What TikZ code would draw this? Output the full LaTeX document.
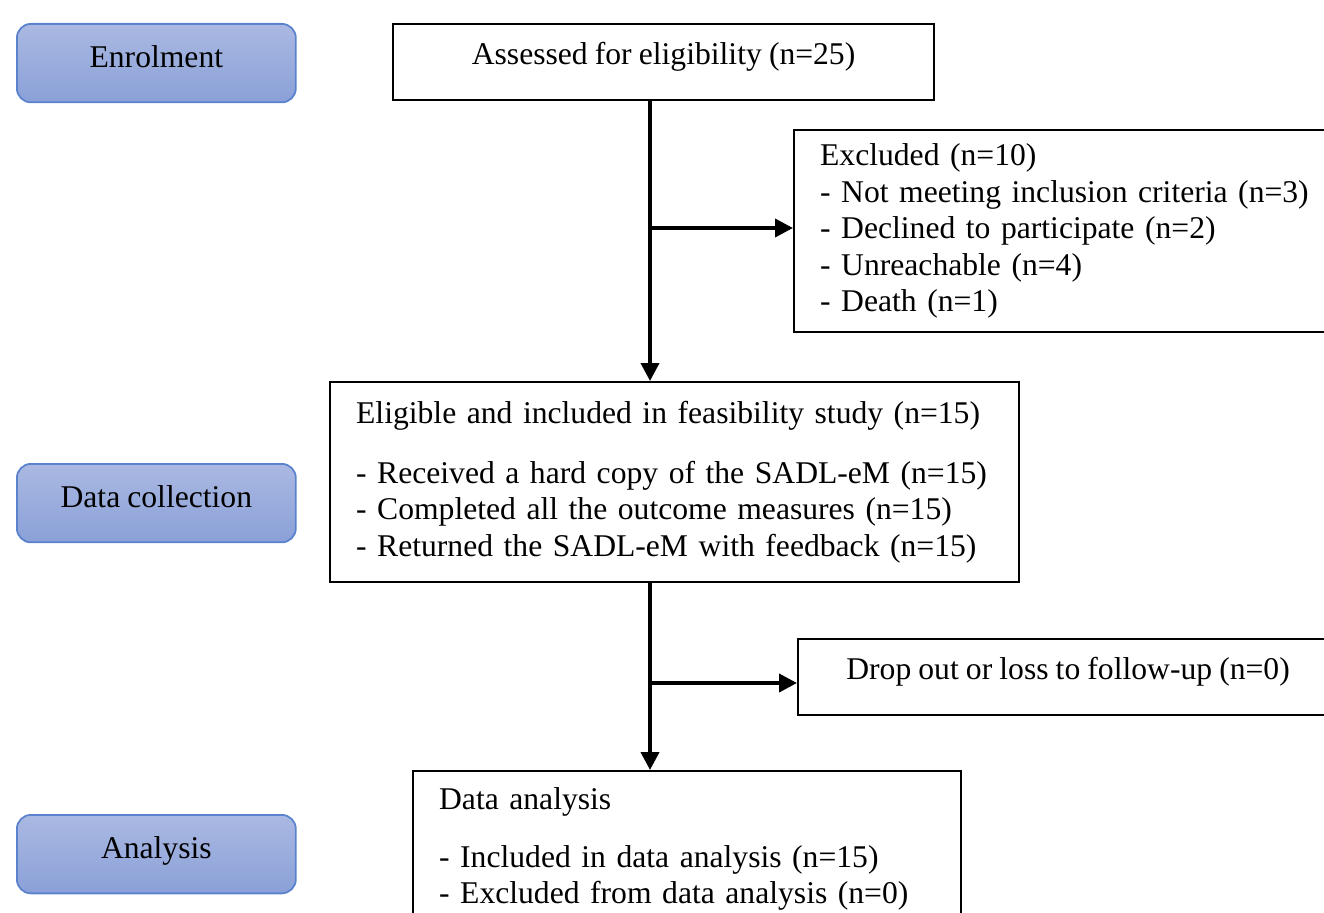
\documentclass[tikz,border=0pt]{standalone}
\usepackage{fontspec}
\setmainfont[WordSpace=0.9]{Liberation Serif}
\usetikzlibrary{arrows.meta,positioning}

\definecolor{stagetop}{RGB}{170,185,226}
\definecolor{stagebot}{RGB}{138,160,216}
\definecolor{stageline}{RGB}{90,130,205}

\tikzset{
  stage/.style={draw=stageline, line width=1pt, rounded corners=8pt,
    top color=stagetop, bottom color=stagebot, anchor=north west,
    minimum width=5.58cm, minimum height=1.57cm, text height=13pt, text depth=8.4pt},
  flowbox/.style={draw, line width=1.3pt, anchor=north west, inner xsep=0.52cm, align=left},
  arr/.style={line width=2.2pt, -{Triangle[length=0.36cm,width=0.36cm]}}
}

\begin{document}
\begin{tikzpicture}[x=0.02cm, y=-0.02cm, font=\fontsize{18}{20.7}\selectfont]
    \useasboundingbox (0,0) rectangle (1324,912);
    \clip (0,0) rectangle (1324,912);
    % stages on the left
    \node [stage] (enrol) at (16,23) {Enrolment};
    \node [stage] (collect) at (16,463) {Data collection};
    \node [stage] (analysis) at (16,814) {Analysis};
    % flow boxes
    \node [flowbox, align=center, minimum width=10.82cm, minimum height=1.52cm,
        text height=13pt, text depth=10.6pt] (assess) at (392,23) {Assessed for eligibility (n=25)};
    \node [flowbox, text width=11cm, minimum height=4.04cm] (excl) at (793,129)
        {Excluded (n=10)\\
         - Not meeting inclusion criteria (n=3)\\
         - Declined to participate (n=2)\\
         - Unreachable (n=4)\\
         - Death (n=1)};
    \node [flowbox, text width=12.74cm, minimum height=4cm] (elig) at (329,381)
        {Eligible and included in feasibility study (n=15)\\[13.5pt]
         - Received a hard copy of the SADL-eM (n=15)\\
         - Completed all the outcome measures (n=15)\\
         - Returned the SADL-eM with feedback (n=15)};
    \node [flowbox, align=center, minimum width=10.8cm, minimum height=1.52cm,
        text height=13pt, text depth=10pt] (drop) at (797,638) {Drop out or loss to follow-up (n=0)};
    \node [flowbox, text width=9.92cm, minimum height=3.12cm] (dana) at (412,770)
        {Data analysis\\[12pt]
         - Included in data analysis (n=15)\\
         - Excluded from data analysis (n=0)};
    % connectors
    \coordinate (split1) at (650,228);
    \coordinate (split2) at (650,683);
    \draw [arr] (split1 |- assess.south) -- (split1 |- elig.north);
    \draw [arr] (split1) -- (split1 -| excl.west);
    \draw [arr] (split2 |- elig.south) -- (split2 |- dana.north);
    \draw [arr] (split2) -- (split2 -| drop.west);
\end{tikzpicture}
\end{document}
